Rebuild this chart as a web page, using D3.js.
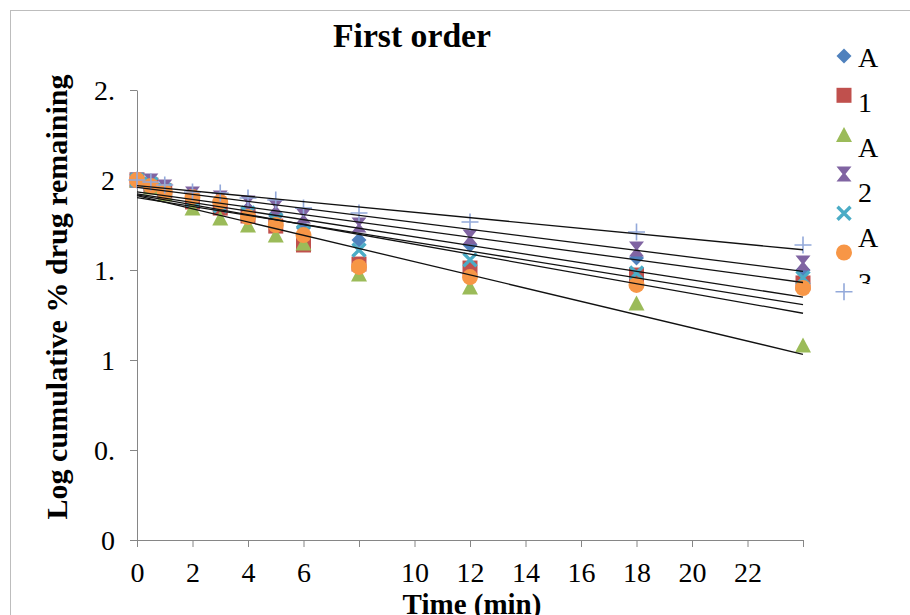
<!DOCTYPE html>
<html>
<head>
<meta charset="utf-8">
<script src="https://cdn.jsdelivr.net/npm/d3@7"></script>
<style>
  body { margin: 0; background: #fff; }
  svg text { font-family: "Liberation Serif", "Times New Roman", serif; fill: #000; }
</style>
</head>
<body>
<div id="chart"></div>
<script>
// time points (min)
var times = [0, 0.5, 1, 2, 3, 4, 5, 6, 8, 12, 18, 24];

// log cumulative % drug remaining, one list per formulation
var seriesA1 = [2.000, 1.983, 1.956, 1.900, 1.872, 1.839, 1.800, 1.733, 1.667, 1.639, 1.567, 1.500];
var series1  = [2.000, 1.972, 1.939, 1.878, 1.844, 1.800, 1.744, 1.639, 1.533, 1.511, 1.472, 1.428];
var seriesA2 = [2.000, 1.961, 1.922, 1.844, 1.789, 1.750, 1.694, 1.650, 1.478, 1.406, 1.317, 1.083];
var series2  = [2.000, 1.994, 1.961, 1.922, 1.900, 1.872, 1.850, 1.800, 1.750, 1.683, 1.617, 1.539];
var seriesA3 = [2.000, 1.978, 1.944, 1.889, 1.856, 1.817, 1.778, 1.711, 1.611, 1.556, 1.483, 1.456];
var seriesA4 = [2.000, 1.967, 1.933, 1.906, 1.878, 1.794, 1.750, 1.694, 1.517, 1.461, 1.417, 1.400];
var series3  = [2.000, 1.989, 1.972, 1.933, 1.928, 1.900, 1.889, 1.844, 1.817, 1.767, 1.711, 1.639];

var seriesList = [seriesA1, series1, seriesA2, series2, seriesA3, seriesA4, series3];
var seriesShapes = ["diamond", "square", "triangle", "hourglass", "cross", "circle", "plus"];
var seriesColors = ["#4F81BD", "#C0504D", "#9BBB59", "#8064A2", "#4BACC6", "#F79646", "#93A9DA"];

// legend text as it shows (wrapped / clipped in the original)
var legendLines = ["A", "1", "A", "2", "A", "3"];

var xTickValues = [0, 2, 4, 6, 8, 10, 12, 14, 16, 18, 20, 22, 24];
var xTickLabels = ["0", "2", "4", "6", "", "10", "12", "14", "16", "18", "20", "22", ""];
var yTickValues = [0, 0.5, 1, 1.5, 2, 2.5];
var yTickLabels = ["0", "0.", "1", "1.", "2", "2."];

var W = 910, H = 615;
var axisColor = "#868686";

var svg = d3.select("#chart").append("svg")
  .attr("width", W)
  .attr("height", H);

// outer chart border (right/bottom fall outside the picture)
svg.append("rect")
  .attr("x", 10.5).attr("y", 10.5)
  .attr("width", 1000).attr("height", 1000)
  .attr("fill", "none")
  .attr("stroke", "#bdbdbd");

var x = d3.scaleLinear().domain([0, 24]).range([137, 803]);
var y = d3.scaleLinear().domain([0, 2.5]).range([540, 90]);

// x axis
var gx = svg.append("g")
  .attr("transform", "translate(0," + y(0) + ")")
  .call(d3.axisBottom(x)
    .tickValues(xTickValues)
    .tickSize(7)
    .tickSizeOuter(0)
    .tickFormat(function(d, i) { return xTickLabels[i]; }));
gx.select(".domain").attr("stroke", axisColor).attr("d", "M" + (x(0) - 7) + ",0.5H" + (x(24) + 1));
gx.selectAll(".tick line").attr("stroke", axisColor);
gx.selectAll(".tick text")
  .attr("y", 42).attr("dy", 0)
  .style("font-size", "28px")
  .style("font-family", "'Liberation Serif', 'Times New Roman', serif")
  .attr("fill", "#000");

// y axis
var gy = svg.append("g")
  .attr("transform", "translate(" + x(0) + ",0)")
  .call(d3.axisLeft(y)
    .tickValues(yTickValues)
    .tickSize(7)
    .tickSizeOuter(0)
    .tickFormat(function(d, i) { return yTickLabels[i]; }));
gy.select(".domain").attr("stroke", axisColor);
gy.selectAll(".tick line").attr("stroke", axisColor);
gy.selectAll(".tick text")
  .attr("x", -22).attr("dy", "0.33em")
  .style("font-size", "28px")
  .style("font-family", "'Liberation Serif', 'Times New Roman', serif")
  .attr("fill", "#000");

// marker shapes
function markerPath(shape) {
  switch (shape) {
    case "diamond": return "M0,-7.5L7.5,0L0,7.5L-7.5,0Z";
    case "square": return "M-7.5,-7.5H7.5V7.5H-7.5Z";
    case "triangle": return "M0,-7.5L8,7.5H-8Z";
    case "hourglass": return "M-7.5,-7.5H7.5L1.5,0L7.5,7.5H-7.5L-1.5,0Z";
    case "circle": return d3.symbol(d3.symbolCircle, 200)();
    default: return null;
  }
}

function drawMarker(g, shape, color) {
  if (shape === "plus") {
    g.append("path").attr("d", "M-8.5,0H8.5M0,-8.5V8.5")
      .attr("stroke", color).attr("stroke-width", 1.6).attr("fill", "none");
  } else if (shape === "cross") {
    g.append("path").attr("d", "M-6.5,-6.5L6.5,6.5M6.5,-6.5L-6.5,6.5")
      .attr("stroke", color).attr("stroke-width", 3.4).attr("fill", "none");
  } else {
    g.append("path").attr("d", markerPath(shape)).attr("fill", color);
  }
}

// points
seriesList.forEach(function(vals, si) {
  var g = svg.append("g").attr("class", "series-" + si);
  vals.forEach(function(v, i) {
    var m = g.append("g").attr("transform", "translate(" + x(times[i]) + "," + y(v) + ")");
    drawMarker(m, seriesShapes[si], seriesColors[si]);
  });
});

// linear trendlines (least squares, like the spreadsheet trendline)
function fit(xs, ys) {
  var mx = d3.mean(xs), my = d3.mean(ys);
  var sxy = d3.sum(xs, function(t, i) { return (t - mx) * (ys[i] - my); });
  var sxx = d3.sum(xs, function(t) { return (t - mx) * (t - mx); });
  var b = sxy / sxx;
  return { a: my - b * mx, b: b };
}
var trendG = svg.append("g");
seriesList.forEach(function(vals) {
  var f = fit(times, vals);
  var t0 = d3.min(times), t1 = d3.max(times);
  trendG.append("line")
    .attr("x1", x(t0)).attr("y1", y(f.a + f.b * t0))
    .attr("x2", x(t1)).attr("y2", y(f.a + f.b * t1))
    .attr("stroke", "#111").attr("stroke-width", 1.3);
});

// title
svg.append("text")
  .attr("x", 412).attr("y", 47)
  .attr("text-anchor", "middle")
  .attr("textLength", 158).attr("lengthAdjust", "spacingAndGlyphs")
  .style("font-size", "33px").style("font-weight", "bold")
  .text("First order");

// axis titles
svg.append("text")
  .attr("transform", "translate(67,297) rotate(-90)")
  .attr("text-anchor", "middle")
  .attr("textLength", 445).attr("lengthAdjust", "spacingAndGlyphs")
  .style("font-size", "30px").style("font-weight", "bold")
  .text("Log cumulative % drug remaining");

svg.append("text")
  .attr("x", 472).attr("y", 614)
  .attr("text-anchor", "middle")
  .style("font-size", "29px").style("font-weight", "bold")
  .text("Time (min)");

// legend
var legend = svg.append("g");
seriesShapes.forEach(function(shape, i) {
  var m = legend.append("g").attr("transform", "translate(844," + (56 + i * 39.3) + ")");
  drawMarker(m, shape, seriesColors[i]);
});
svg.append("clipPath").attr("id", "legclip")
  .append("rect").attr("x", 850).attr("y", 30).attr("width", 60).attr("height", 254);
var legText = legend.append("g").attr("clip-path", "url(#legclip)");
legendLines.forEach(function(s, i) {
  legText.append("text")
    .attr("x", 858).attr("y", 67 + i * 45)
    .style("font-size", "28px")
    .text(s);
});
</script>
</body>
</html>
